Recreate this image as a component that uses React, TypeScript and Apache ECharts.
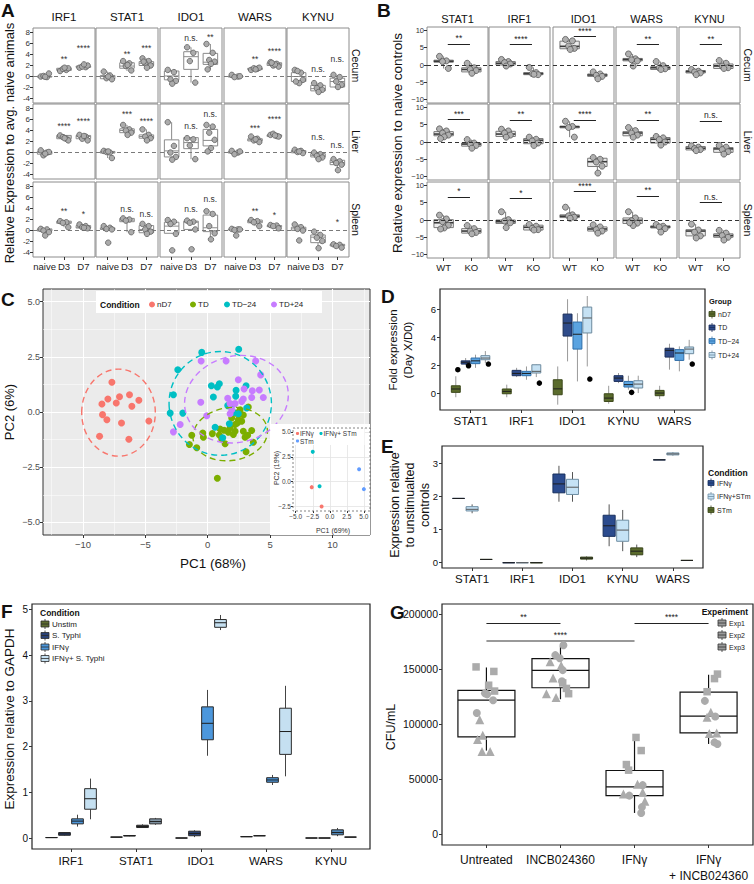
import React, { useEffect, useRef } from 'react';
import * as echarts from 'echarts';

const FONT = '"Liberation Sans", Arial, Helvetica, sans-serif';
const mfmt = (d?: number) => (v: number) => (d === undefined ? String(v) : v.toFixed(d)).replace('-', '\u2212');

// ---------------- Panel A ----------------
const A_GENES = ['IRF1', 'STAT1', 'IDO1', 'WARS', 'KYNU'];
const A_TISSUES = ['Cecum', 'Liver', 'Spleen'];
const A_GROUPS = ['naive', 'D3', 'D7'];
const A_Y_TICKS = [-4, -2, 0, 2, 4, 6, 8];
// box: [min, q1, median, q3, max] per gene, per group
const A_CECUM_BOX = [
  [[-0.15, -0.1, 0, 0.05, 0.5], [1.0, 1.1, 1.3, 1.5, 1.6], [1.6, 1.65, 1.8, 1.9, 2.2]],
  [[-0.6, -0.4, 0, 0.2, 0.9], [1.0, 1.5, 1.9, 2.5, 2.8], [1.6, 2.0, 2.4, 2.7, 3.3]],
  [[-1.3, -0.6, 0.1, 1.0, 1.2], [-1.1, 1.3, 3.6, 4.5, 5.3], [1.3, 2.2, 2.6, 4.2, 5.9]],
  [[-0.2, -0.1, 0, 0.1, 0.3], [1.2, 1.25, 1.4, 1.5, 1.6], [1.8, 2.0, 2.3, 2.5, 2.6]],
  [[-1.2, -0.9, 0.0, 0.7, 1.2], [-2.8, -2.6, -2.2, -1.6, -1.2], [-1.9, -1.9, -0.9, -0.3, 0.3]],
];
const A_CECUM_PTS = [
  [[0, -0.1, 0.1, 0.55, -0.05], [1.0, 1.2, 1.4, 1.5, 1.6], [1.6, 1.7, 1.8, 2.0, 2.2]],
  [[0.9, 0.2, -0.3, -0.5, 0], [2.8, 2.4, 1.9, 1.1, 2.1], [3.3, 2.8, 2.4, 2.0, 1.6, 2.7]],
  [[1.2, 0.8, -0.5, -0.8, -1.3], [5.3, 4.3, 2.8, -1.1], [5.9, 4.3, 3.0, 2.7, 2.3, 1.3]],
  [[0.3, 0, -0.1, 0.05], [1.2, 1.4, 1.5, 1.6, 1.3], [2.6, 2.3, 2.0, 1.8, 2.2, 2.5]],
  [[1.2, 0.7, 1.0, -0.6, -1.2, -0.9], [-1.2, -1.6, -2.1, -2.4, -2.8], [0.3, -0.1, -0.9, -1.5, -1.9]],
];
const A_CECUM_SIG = [
  [['**', 3.5], ['****', 5.6]], [['**', 4.5], ['***', 5.5]], [['n.s.', 6.9], ['**', 7.6]],
  [['**', 3.5], ['****', 5.0]], [['n.s.', 1.3], ['n.s.', 3.1]],
];
const A_LIVER_BOX = [
  [[-0.5, -0.3, 0, 0.2, 0.4], [2.2, 2.5, 2.8, 3.1, 3.3], [2.2, 2.5, 2.9, 3.1, 3.2]],
  [[-1.0, -0.1, 0.1, 0.2, 0.3], [3.2, 3.6, 4.0, 4.3, 5.0], [2.2, 2.6, 2.9, 3.2, 4.2]],
  [[-1.3, -0.8, 0.3, 2.3, 5.5], [-1.2, 0.7, 1.8, 2.7, 2.7], [0.2, 1.2, 2.2, 4.2, 5.0]],
  [[-0.3, -0.1, 0.05, 0.2, 0.3], [1.9, 2.1, 2.3, 2.5, 2.9], [2.8, 2.9, 3.1, 3.2, 3.4]],
  [[-0.1, -0.05, 0.2, 0.35, 0.5], [-1.2, -0.8, -0.5, -0.2, 0.0], [-3.2, -2.2, -1.8, -1.4, -1.2]],
];
const A_LIVER_PTS = [
  [[0.4, 0, -0.5, 0.1, -0.2], [3.1, 2.5, 2.8, 2.2, 2.6], [3.2, 2.9, 2.5, 2.2, 3.0]],
  [[0.3, 0, 0.1, -1.0, 0.2], [5.0, 4.2, 4.0, 3.6, 3.2], [4.2, 3.2, 2.9, 2.6, 2.2]],
  [[5.5, 1.2, 0.0, -0.8, -1.3], [2.6, 2.4, 1.3, -1.2], [5.0, 4.7, 3.6, 2.3, 0.8, 0.2]],
  [[0.3, 0, -0.3, 0.2], [2.9, 2.5, 2.2, 1.9, 2.4], [3.2, 3.0, 3.4, 2.9, 3.1]],
  [[0.5, 0.3, 0.1, -0.1, 0.2], [0.0, -0.3, -0.6, -0.9, -1.2], [-1.2, -1.6, -1.9, -2.2, -3.2]],
];
const A_LIVER_SIG = [
  [['****', 5.1], ['****', 6.1]], [['***', 7.3], ['****', 6.0]], [['n.s.', 4.9], ['n.s.', 6.9]],
  [['***', 4.9], ['****', 6.5]], [['n.s.', 2.8], ['n.s.', 1.4]],
];
const A_SPLEEN_BOX = [
  [[-0.9, -0.1, 0.1, 0.3, 0.4], [0.6, 1.3, 1.5, 1.7, 1.8], [0.4, 0.45, 0.6, 0.9, 1.1]],
  [[-0.2, 0.2, 0.3, 0.5, 0.8], [-0.3, 1.6, 1.9, 2.2, 2.3], [-0.6, -0.4, 0.2, 0.9, 1.2]],
  [[-0.6, -0.5, 0.8, 1.5, 1.9], [0.2, 0.2, 1.5, 1.7, 1.8], [-1.6, -0.2, 0.5, 2.8, 3.5]],
  [[0.0, 0.1, 0.15, 0.25, 0.3], [0.8, 1.4, 1.6, 1.9, 2.0], [0.4, 0.7, 0.8, 0.9, 1.0]],
  [[-0.2, 0.0, 0.3, 0.6, 1.1], [-3.2, -2.2, -1.2, -0.8, -0.2], [-3.1, -2.8, -2.6, -2.5, -2.5]],
];
const A_SPLEEN_PTS = [
  [[0.3, 0.2, 0, -0.3, -0.9], [1.7, 1.5, 1.4, 0.6], [1.1, 0.8, 0.6, 0.4, 0.5]],
  [[0.8, 0.5, 0.3, 0.2, -2.2], [2.2, 2.0, 1.8, -0.3], [1.2, 0.8, 0.2, -0.2, -0.6]],
  [[1.9, 1.6, 1.2, -0.6, -3.6], [1.8, 1.6, 1.4, 0.2, -3.4], [3.5, 3.0, 0.8, -0.5, -1.6]],
  [[0.3, 0.2, 0.1, 0.2, -0.9], [1.9, 1.7, 1.5, 0.8], [1.0, 0.9, 0.8, 0.4]],
  [[1.1, 0.6, 0.3, 0.0, -1.8], [-0.2, -0.8, -1.3, -1.9, -3.2], [-2.5, -2.6, -2.8, -3.1]],
];
const A_SPLEEN_SIG = [
  [['**', 3.9], ['*', 3.4]], [['n.s.', 3.9], ['n.s.', 3.0]], [['n.s.', 3.9], ['n.s.', 5.8]],
  [['**', 3.9], ['*', 3.1]], [['', 0], ['*', 2.0]],
];
const A_JIT = [-0.2, 0.12, -0.06, 0.22, 0.03, -0.14, 0.17];

// ---------------- Panel B ----------------
const B_GENES = ['STAT1', 'IRF1', 'IDO1', 'WARS', 'KYNU'];
const B_TISSUES = ['Cecum', 'Liver', 'Spleen'];
const B_GROUPS = ['WT', 'KO'];
const B_Y_TICKS = [-10, -5, 0, 5, 10];
const B_CECUM_BOX = [
  [[-1.0, 0.8, 1.1, 1.4, 2.5], [-2.4, -2.0, -1.3, -0.8, 0.5]],
  [[-0.3, 0.0, 0.5, 1.0, 1.6], [-2.8, -2.8, -2.5, -2.2, -0.7]],
  [[4.5, 4.7, 5.4, 6.9, 7.4], [-4.0, -3.3, -2.9, -2.6, -2.0]],
  [[-0.3, 1.2, 1.6, 1.9, 3.2], [-1.3, -1.3, -0.8, -0.5, 1.0]],
  [[-2.8, -2.3, -1.9, -1.6, -1.3], [-1.0, -1.0, -0.3, 0.3, 1.3]],
];
const B_CECUM_PTS = [
  [[2.5, 1.2, 1.0, -1.0], [0.5, -0.8, -1.3, -1.6, -2.4]],
  [[1.6, 1.0, 0.7, 0.3, -0.3], [-0.7, -2.2, -2.5, -2.8, -2.7]],
  [[7.4, 7.0, 5.5, 4.8, 4.5], [-2.0, -2.6, -3.0, -3.3, -4.0]],
  [[3.2, 1.8, 1.5, 1.2, -0.3], [1.0, -0.2, -0.8, -1.1, -1.3]],
  [[-1.3, -1.8, -2.0, -2.3, -2.8], [1.3, 0.5, -0.3, -0.8, -1.0]],
];
const B_CECUM_SIG = [['**', 6.1], ['****', 5.9], ['****', 8.3], ['**', 5.9], ['**', 5.9]];
const B_LIVER_BOX = [
  [[1.0, 1.8, 2.3, 3.0, 3.8], [-1.8, -1.2, -0.6, -0.3, 0.7]],
  [[1.4, 1.6, 2.3, 3.1, 3.7], [-1.0, -0.5, 0.5, 1.0, 1.4]],
  [[1.4, 4.1, 4.4, 4.6, 6.0], [-9.0, -7.1, -5.7, -4.7, -4.5]],
  [[1.4, 1.8, 2.6, 3.0, 4.2], [-0.9, -0.3, 0.8, 1.3, 1.6]],
  [[-2.5, -2.3, -1.8, -1.3, -1.1], [-3.5, -3.0, -2.0, -1.6, -1.0]],
];
const B_LIVER_PTS = [
  [[3.8, 3.2, 2.6, 2.0, 1.5, 1.0], [0.7, -0.3, -0.6, -1.0, -1.8]],
  [[3.7, 3.2, 2.6, 2.0, 1.4], [1.4, 0.8, 0.3, -0.3, -1.0]],
  [[6.0, 4.5, 4.2, 1.4], [-4.5, -5.0, -5.8, -7.0, -9.0]],
  [[4.2, 3.3, 2.6, 2.0, 1.4], [1.6, 1.2, 0.7, 0.0, -0.9]],
  [[-1.1, -1.5, -1.9, -2.2, -2.5], [-1.0, -1.5, -2.2, -2.8, -3.5]],
];
const B_LIVER_SIG = [['***', 6.6], ['**', 6.4], ['****', 6.4], ['**', 6.4], ['n.s.', 6.1]];
const B_SPLEEN_BOX = [
  [[-2.6, -2.2, -0.8, 0.1, 1.4], [-4.0, -3.8, -3.2, -2.5, -1.6]],
  [[-2.2, -1.0, -0.5, 0.0, 2.4], [-2.9, -2.9, -2.1, -1.5, -1.3]],
  [[0.5, 0.7, 1.1, 1.5, 3.7], [-3.8, -3.2, -2.6, -2.0, -1.4]],
  [[-1.6, -1.0, -0.1, 0.6, 2.4], [-3.5, -2.3, -2.0, -1.7, -1.3]],
  [[-5.2, -4.6, -3.2, -2.8, -1.2], [-5.8, -5.0, -4.5, -4.0, -3.0]],
];
const B_SPLEEN_PTS = [
  [[1.4, 0.3, -0.5, -1.5, -2.3, -2.6], [-1.6, -2.5, -3.2, -3.6, -4.0]],
  [[2.4, 0.1, -0.3, -0.8, -2.2], [-1.3, -1.8, -2.4, -2.8, -2.9]],
  [[3.7, 1.5, 1.2, 0.8, 0.5], [-1.4, -2.0, -2.8, -3.2, -3.8]],
  [[2.4, 0.6, -0.2, -0.9, -1.6, -0.8], [-1.3, -1.8, -2.0, -2.5, -3.5]],
  [[-1.2, -2.9, -3.5, -4.6, -5.2], [-3.0, -3.8, -4.5, -5.0, -5.8]],
];
const B_SPLEEN_SIG = [['*', 6.7], ['*', 6.2], ['****', 8.3], ['**', 7.0], ['n.s.', 5.2]];
const B_JIT = [-0.15, 0.1, -0.04, 0.17, 0.02, -0.11];

// ---------------- Panel C ----------------
const C_CONDITIONS = ['nD7', 'TD', 'TD\u221224', 'TD+24'];
const C_ND7 = [[-7.68, 1.35], [-8.0, 0.59], [-8.48, 0.36], [-7.07, 0.69], [-7.33, 0.41], [-6.27, 0.78], [-5.52, 0.53], [-6.08, 0.26], [-8.43, -0.12], [-8.08, -0.35], [-6.91, -0.5], [-4.72, -0.41], [-8.67, -1.1], [-6.32, -1.23]];
const C_TD = [[0.77, -3.0], [-1.28, -1.05], [-1.47, -1.47], [-0.88, -1.62], [-0.4, -0.95], [-0.35, -1.14], [0.37, -0.98], [0.99, -0.77], [0.93, -1.04], [1.31, -0.83], [1.65, -0.92], [1.79, -0.71], [1.12, -1.22], [1.39, -1.44], [2.05, -1.02], [2.19, -0.87], [2.45, -0.35], [2.59, -0.09], [2.85, -0.14], [2.72, -0.42], [2.37, -0.5], [2.85, -0.87], [2.99, -1.14], [3.2, -1.05], [3.25, 0.23], [3.52, -0.84], [3.07, -1.8], [3.65, -1.37], [2.19, -0.57], [1.92, -0.27], [2.59, 0.1], [2.27, -0.05]];
const C_TDM24 = [[-0.48, 2.7], [2.48, 2.84], [-2.4, 1.91], [-2.75, 0.78], [-3.01, -0.05], [-2.0, -0.05], [0.29, 1.19], [0.45, 0.68], [0.77, 1.13], [0.93, 1.28], [2.27, 0.98], [2.24, 0.71], [3.07, 1.19], [1.6, 0.29], [1.97, 0.33], [2.05, -0.02], [3.12, 0.18], [1.73, -0.53], [0.59, -0.69], [1.2, -1.17], [2.45, -0.08]];
const C_TDP24 = [[-0.53, 2.31], [1.47, 2.31], [3.84, 2.31], [4.24, 1.68], [2.45, 1.46], [2.91, 1.04], [3.57, 0.96], [4.13, 1.0], [4.45, 0.66], [3.52, 0.66], [2.85, 0.59], [1.6, 0.62], [2.19, 0.38], [2.72, 0.48], [-0.56, 0.44], [-0.08, -0.17], [1.79, -0.08], [1.92, 0.1], [-2.21, -0.57], [-2.75, -0.9], [1.79, 0.38]];
// ellipse: [cx, cy, rx, ry, rotation deg]
const C_ELL_ND7 = [-7.15, -0.03, 2.95, 1.97, 0];
const C_ELL_TD = [1.8, -1.0, 3.0, 1.2, 8];
const C_ELL_TDM24 = [1.0, 0.39, 4.1, 2.35, 5];
const C_ELL_TDP24 = [2.3, 0.58, 4.2, 1.95, 15];
const C_X_TICKS = [-10, -5, 0, 5, 10];
const C_X_MINOR = [-12.5, -7.5, -2.5, 2.5, 7.5, 12.5];
const C_Y_TICKS = [-5, -2.5, 0, 2.5, 5];
const C_Y_MINOR = [-3.75, -1.25, 1.25, 3.75];
const C_IN_CONDITIONS = ['IFN\u03b3', 'IFN\u03b3+ STm', 'STm'];
const C_IN_IFNG = [[-2.65, -0.55], [-1.2, -2.5]];
const C_IN_IFNG_STM = [[-2.5, 3.0], [-1.5, -0.45]];
const C_IN_STM = [[4.3, 1.25], [5.0, -0.75]];
const C_IN_X_TICKS = [-5, -2.5, 0, 2.5, 5];
const C_IN_Y_TICKS = [-2.5, 0, 2.5, 5];

// ---------------- Panel D ----------------
const D_CATS = ['STAT1', 'IRF1', 'IDO1', 'KYNU', 'WARS'];
const D_GROUPS = ['nD7', 'TD', 'TD\u221224', 'TD+24'];
const D_ND7 = [[-0.3, 0.05, 0.29, 0.52, 1.2], [-0.3, -0.05, 0.12, 0.29, 0.6], [-0.83, -0.12, 0.3, 0.95, 1.9], [-0.76, -0.6, -0.36, -0.05, 0.52], [-0.43, -0.19, 0.0, 0.19, 0.52]];
const D_TD = [[2.0, 2.07, 2.2, 2.3, 2.5], [1.14, 1.24, 1.4, 1.62, 1.8], [2.26, 4.07, 5.0, 5.64, 6.7], [0.71, 0.83, 1.07, 1.24, 1.43], [1.67, 2.57, 3.05, 3.2, 3.52]];
const D_TDM24 = [[1.8, 2.1, 2.3, 2.5, 2.74], [0.95, 1.24, 1.4, 1.55, 1.9], [0.83, 3.14, 4.2, 5.07, 5.7], [0.24, 0.43, 0.6, 0.83, 1.24], [1.55, 2.33, 2.86, 3.1, 3.33]];
const D_TDP24 = [[2.14, 2.38, 2.5, 2.67, 3.0], [1.14, 1.43, 1.55, 2.02, 2.05], [1.9, 4.29, 5.36, 6.14, 6.93], [0.0, 0.36, 0.64, 0.88, 1.24], [2.38, 2.81, 3.14, 3.29, 3.8]];
// [category index, dodge offset, value]
const D_DOTS = [[0, -0.25, 1.67], [0, -0.04, 1.95], [0, 0.35, 2.07], [1, 0.35, 0.71], [2, 0.34, 1.0], [3, 0.16, 0.05], [4, 0.35, 2.07]];
const D_Y_TICKS = [0, 2, 4, 6];

// ---------------- Panel E ----------------
const E_CATS = ['STAT1', 'IRF1', 'IDO1', 'KYNU', 'WARS'];
const E_GROUPS = ['IFN\u03b3', 'IFN\u03b3+STm', 'STm'];
const E_IFNG = [[1.93, 1.93, 1.93, 1.93, 1.93], [-0.02, -0.02, -0.02, -0.02, -0.02], [1.83, 2.1, 2.37, 2.67, 2.92], [0.48, 0.78, 1.1, 1.42, 1.75], [3.1, 3.1, 3.1, 3.1, 3.1]];
const E_IFNG_STM = [[1.48, 1.55, 1.6, 1.68, 1.75], [-0.02, -0.02, -0.02, -0.02, -0.02], [1.83, 2.05, 2.27, 2.51, 2.73], [0.33, 0.63, 0.97, 1.27, 1.58], [3.23, 3.25, 3.28, 3.31, 3.33]];
const E_STM = [[0.08, 0.08, 0.08, 0.08, 0.08], [-0.02, -0.02, -0.02, -0.02, -0.02], [0.05, 0.09, 0.12, 0.15, 0.17], [0.15, 0.22, 0.33, 0.43, 0.53], [0.05, 0.05, 0.05, 0.05, 0.05]];
const E_Y_TICKS = [0, 1, 2, 3];

// ---------------- Panel F ----------------
const F_CATS = ['IRF1', 'STAT1', 'IDO1', 'WARS', 'KYNU'];
const F_GROUPS = ['Unstim', 'S. Typhi', 'IFN\u03b3', 'IFN\u03b3+ S. Typhi'];
const F_UNSTIM = [[0.01, 0.01, 0.01, 0.01, 0.01], [0.02, 0.02, 0.02, 0.02, 0.02], [0, 0, 0, 0, 0], [0.03, 0.03, 0.03, 0.03, 0.03], [0, 0, 0, 0, 0]];
const F_STYPHI = [[0.05, 0.06, 0.09, 0.12, 0.13], [0.04, 0.045, 0.05, 0.055, 0.06], [0.02, 0.05, 0.1, 0.15, 0.17], [0.05, 0.05, 0.05, 0.05, 0.05], [0, 0, 0, 0, 0]];
const F_IFNG = [[0.25, 0.31, 0.37, 0.42, 0.51], [0.22, 0.23, 0.25, 0.28, 0.3], [1.8, 2.15, 2.51, 2.87, 3.24], [1.16, 1.22, 1.27, 1.32, 1.38], [0.04, 0.07, 0.12, 0.18, 0.22]];
const F_IFNG_STYPHI = [[0.41, 0.63, 0.86, 1.08, 1.3], [0.29, 0.31, 0.36, 0.42, 0.44], [4.55, 4.61, 4.71, 4.78, 4.88], [1.35, 1.83, 2.33, 2.84, 3.33], [0.02, 0.02, 0.02, 0.02, 0.02]];
const F_Y_TICKS = [0, 1, 2, 3, 4, 5];

// ---------------- Panel G ----------------
const G_CATS = ['Untreated', 'INCB024360', 'IFN\u03b3', 'IFN\u03b3\n+ INCB024360'];
const G_EXPERIMENTS = ['Exp1', 'Exp2', 'Exp3'];
const G_BOX = [[75900, 88400, 121600, 130500, 151300], [122500, 132900, 148600, 159300, 170800], [19300, 35000, 43000, 57800, 87500], [81900, 91900, 107100, 129000, 144700]];
// [category, jitter, CFU/mL]
const G_SQUARES = [[0, -0.14, 151800], [0, 0.1, 147700], [0, 0.03, 135200], [0, 0.11, 129900], [1, 0.03, 137300], [1, 0.08, 132300], [1, 0.11, 127500], [2, 0.02, 87800], [2, 0.09, 75900], [2, -0.11, 63200], [2, -0.08, 58100], [3, 0.12, 145300], [3, 0.08, 141200], [3, -0.02, 129300]];
const G_CIRCLES = [[0, -0.02, 127800], [0, 0.01, 126900], [0, 0.09, 121600], [0, -0.13, 110000], [1, 0.04, 171400], [1, -0.07, 162500], [1, -0.01, 159600], [1, 0.03, 148900], [1, 0.02, 138800], [2, 0.11, 44500], [2, -0.07, 35000], [2, 0.1, 24600], [2, 0.09, 19300], [3, -0.05, 121000], [3, 0.09, 106800], [3, 0.08, 83300], [3, 0.12, 81900]];
const G_TRIANGLES = [[0, -0.09, 103800], [0, -0.05, 89900], [0, -0.12, 86000], [0, -0.06, 75000], [0, 0.05, 75000], [1, -0.14, 156600], [1, 0.01, 153000], [1, -0.1, 141800], [1, -0.19, 127500], [1, -0.06, 124000], [2, 0.04, 45400], [2, -0.15, 36500], [2, 0.11, 38000], [2, 0.14, 30000], [3, 0.03, 110600], [3, -0.02, 106200], [3, 0.11, 91900], [3, 0.01, 91300]];
// [label, from category, to category, y]
const G_SIG = [['**', 0, 1, 191800], ['****', 0, 2, 176000], ['****', 2, 3, 191800]];
const G_Y_TICKS = [0, 50000, 100000, 150000, 200000];

// ---------------- helpers ----------------
function axis(o: any) {
  const show = !!o.ticks;
  const a: any = {
    type: 'value', gridIndex: o.gi, min: o.min, max: o.max,
    axisLine: { show: false, onZero: false }, splitLine: { show: false },
    axisTick: { show, length: o.tickLen ?? 3, lineStyle: { color: o.tickColor ?? '#333', width: 1 } },
    axisLabel: { show, fontSize: o.size ?? 9, color: o.color ?? '#222', margin: o.margin ?? 3, fontFamily: FONT },
  };
  if (o.ticks) { a.axisTick.customValues = o.ticks; a.axisLabel.customValues = o.ticks; }
  if (o.fmt) a.axisLabel.formatter = o.fmt;
  if (o.lineHeight) a.axisLabel.lineHeight = o.lineHeight;
  if (o.z !== undefined) a.z = o.z;
  return a;
}

function boxSeries(gi: number, rows: number[][], o: any) {
  const pick = (v: any, i: number) => (Array.isArray(v) ? v[i] : v);
  const s: any = {
    type: 'custom', xAxisIndex: gi, yAxisIndex: gi, z: o.z ?? 3, silent: true,
    encode: { x: 0, y: [1, 2, 3, 4, 5] },
    data: rows,
    renderItem: (params: any, api: any) => {
      const i = params.dataIndex;
      const x = api.value(0);
      const w = api.size([o.width, 0])[0];
      const p = [1, 2, 3, 4, 5].map((k) => api.coord([x, api.value(k)]));
      const cx = p[0][0];
      const lw = o.lineWidth ?? 1;
      return {
        type: 'group',
        children: [
          { type: 'line', shape: { x1: cx, y1: p[4][1], x2: cx, y2: p[3][1] }, style: { stroke: o.whisker, lineWidth: lw } },
          { type: 'line', shape: { x1: cx, y1: p[1][1], x2: cx, y2: p[0][1] }, style: { stroke: o.whisker, lineWidth: lw } },
          { type: 'rect', shape: { x: cx - w / 2, y: p[3][1], width: w, height: Math.max(p[1][1] - p[3][1], 0) }, style: { fill: pick(o.fill, i), stroke: pick(o.stroke, i), lineWidth: lw } },
          { type: 'line', shape: { x1: cx - w / 2, y1: p[2][1], x2: cx + w / 2, y2: p[2][1] }, style: { stroke: pick(o.median, i), lineWidth: o.medianWidth ?? lw } },
        ],
      };
    },
  };
  if (o.markLine) s.markLine = o.markLine;
  return s;
}

function pointSeries(gi: number, data: number[][], o: any) {
  const s: any = {
    type: 'scatter', xAxisIndex: gi, yAxisIndex: gi, data, silent: true,
    symbol: o.symbol ?? 'circle', symbolSize: o.size,
    itemStyle: { color: o.color, borderColor: o.border ?? o.color, borderWidth: o.borderWidth ?? 0, opacity: 1 },
    z: o.z ?? 4,
  };
  if (o.markLine) s.markLine = o.markLine;
  return s;
}

function textSeries(gi: number, items: any[], o: any) {
  return {
    type: 'custom', xAxisIndex: gi, yAxisIndex: gi, silent: true, z: 6,
    encode: { x: 0, y: 1 },
    data: items.map((it) => [it.x, it.y]),
    renderItem: (params: any, api: any) => {
      const p = api.coord([api.value(0), api.value(1)]);
      const t = items[params.dataIndex].text;
      return {
        type: 'text', x: p[0], y: p[1] + (t.charAt(0) === '*' ? 2 : 0),
        style: { text: t, fontSize: o.size, fontFamily: FONT, fill: o.color, align: 'center', verticalAlign: 'middle', textAlign: 'center', textVerticalAlign: 'middle' },
      };
    },
  };
}

function txt(text: string, x: number, y: number, o: any = {}) {
  return {
    type: 'text', x, y, rotation: o.rot ?? 0, z: o.z ?? 30,
    style: {
      text, fontSize: o.size ?? 10, fontFamily: FONT, fontWeight: o.bold ? 'bold' : 'normal', fill: o.color ?? '#111',
      align: o.align ?? 'center', verticalAlign: o.va ?? 'middle', textAlign: o.align ?? 'center', textVerticalAlign: o.va ?? 'middle',
    },
  };
}

function legIcon(x: number, y: number, fill: string, stroke: string, w = 7, h = 6) {
  return {
    type: 'group', x, y, z: 30,
    children: [
      { type: 'line', shape: { x1: w / 2, y1: -h / 2 - 2, x2: w / 2, y2: h / 2 + 2 }, style: { stroke, lineWidth: 0.8 } },
      { type: 'rect', shape: { x: 0, y: -h / 2, width: w, height: h }, style: { fill, stroke, lineWidth: 0.8 } },
      { type: 'line', shape: { x1: 0, y1: 0, x2: w, y2: 0 }, style: { stroke, lineWidth: 0.8 } },
    ],
  };
}

function buildOption() {
  const grids: any[] = [];
  const xAxes: any[] = [];
  const yAxes: any[] = [];
  const series: any[] = [];
  const graphics: any[] = [];

  const zeroLine = (color: string, z: number) => ({
    silent: true, symbol: ['none', 'none'], z, label: { show: false },
    lineStyle: { color, width: 1, type: [4, 3] }, data: [{ yAxis: 0 }],
  });

  // ---------- Panel A ----------
  const A_COL_LEFT = [33, 96, 160, 224, 287];
  const A_ROW_TOP = [28, 104, 182];
  const A_BOXES = [A_CECUM_BOX, A_LIVER_BOX, A_SPLEEN_BOX];
  const A_POINTS = [A_CECUM_PTS, A_LIVER_PTS, A_SPLEEN_PTS];
  const A_SIGS = [A_CECUM_SIG, A_LIVER_SIG, A_SPLEEN_SIG];
  for (let r = 0; r < 3; r++) {
    for (let c = 0; c < 5; c++) {
      const gi = grids.length;
      grids.push({ left: A_COL_LEFT[c], top: A_ROW_TOP[r], width: 62, height: 75, show: true, borderColor: '#8c8c8c', borderWidth: 1, backgroundColor: '#fff' });
      xAxes.push(axis({ gi, min: -0.6, max: 2.6, ticks: r === 2 ? [0, 1, 2] : null, fmt: (v: number) => A_GROUPS[Math.round(v)], size: 9.5, margin: 4, color: '#222' }));
      yAxes.push(axis({ gi, min: -4.8, max: 8.8, ticks: c === 0 ? A_Y_TICKS : null, size: 8, margin: 3, color: '#333' }));
      series.push(boxSeries(gi, A_BOXES[r][c].map((b, g) => [g, ...b]), { width: 0.75, fill: '#fff', stroke: '#8a8a8a', whisker: '#8a8a8a', median: '#8a8a8a', markLine: zeroLine('#7a7a7a', 3.5) }));
      const pts: number[][] = [];
      A_POINTS[r][c].forEach((arr, g) => arr.forEach((v, i) => pts.push([g + A_JIT[i % A_JIT.length], v])));
      series.push(pointSeries(gi, pts, { size: 5.5, color: '#ababab', border: '#5e5e5e', borderWidth: 0.8 }));
      const sigs = (A_SIGS[r][c] as any[]).map((s, k) => ({ x: k + 1, y: s[1], text: s[0] })).filter((s) => s.text);
      series.push(textSeries(gi, sigs, { size: 8.5, color: '#333' }));
    }
  }
  A_GENES.forEach((g, c) => graphics.push(txt(g, A_COL_LEFT[c] + 31, 16.5, { size: 11.5 })));
  A_TISSUES.forEach((t, r) => graphics.push(txt(t, 356, A_ROW_TOP[r] + 37.5, { size: 10.5, rot: -Math.PI / 2 })));
  graphics.push(txt('Relative Expression to avg. naive animals', 9, 143, { size: 13, rot: Math.PI / 2 }));
  graphics.push(txt('A', 1, 10, { size: 19, bold: true, align: 'left' }));

  // ---------- Panel B ----------
  const B_COL_LEFT = [427, 489, 553, 616, 679];
  const B_ROW_TOP = [27, 104, 182];
  const B_BOXES = [B_CECUM_BOX, B_LIVER_BOX, B_SPLEEN_BOX];
  const B_POINTS = [B_CECUM_PTS, B_LIVER_PTS, B_SPLEEN_PTS];
  const B_SIGS = [B_CECUM_SIG, B_LIVER_SIG, B_SPLEEN_SIG];
  for (let r = 0; r < 3; r++) {
    for (let c = 0; c < 5; c++) {
      const gi = grids.length;
      grids.push({ left: B_COL_LEFT[c], top: B_ROW_TOP[r], width: 61, height: 76, show: true, borderColor: '#8c8c8c', borderWidth: 1, backgroundColor: '#fff' });
      xAxes.push(axis({ gi, min: -0.6, max: 1.6, ticks: r === 2 ? [0, 1] : null, fmt: (v: number) => B_GROUPS[Math.round(v)], size: 9.5, margin: 4, color: '#222' }));
      yAxes.push(axis({ gi, min: -11, max: 11, ticks: c === 0 ? B_Y_TICKS : null, fmt: mfmt(), size: 7.5, margin: 3, color: '#333' }));
      series.push(boxSeries(gi, B_BOXES[r][c].map((b, g) => [g, ...b]), { width: 0.7, fill: '#ececec', stroke: '#7a7a7a', whisker: '#7a7a7a', median: '#3a3a3a', medianWidth: 1.6 }));
      const pts: number[][] = [];
      B_POINTS[r][c].forEach((arr, g) => arr.forEach((v, i) => pts.push([g + B_JIT[i % B_JIT.length], v])));
      const sig = B_SIGS[r][c] as any[];
      series.push(pointSeries(gi, pts, {
        size: 6, color: '#b0b0b0', border: '#555', borderWidth: 0.8,
        markLine: {
          silent: true, symbol: ['none', 'none'], z: 5,
          label: { show: false },
          data: [
            { yAxis: 0, lineStyle: { color: '#333', width: 1, type: [4, 3] }, label: { show: false } },
            [
              { coord: [0.15, sig[1]], lineStyle: { color: '#222', width: 1, type: 'solid' }, label: { show: true, formatter: sig[0], position: 'insideMiddleTop', distance: 1, fontSize: 8.5, color: '#222', fontFamily: FONT } },
              { coord: [0.95, sig[1]] },
            ],
          ],
        },
      }));
    }
  }
  B_GENES.forEach((g, c) => graphics.push(txt(g, B_COL_LEFT[c] + 30.5, 18.5, { size: 11 })));
  B_TISSUES.forEach((t, r) => graphics.push(txt(t, 748, B_ROW_TOP[r] + 38, { size: 10.5, rot: -Math.PI / 2 })));
  graphics.push(txt('Relative expression to naive controls', 397, 143, { size: 13.5, rot: Math.PI / 2 }));
  graphics.push(txt('B', 377, 10, { size: 19, bold: true, align: 'left' }));

  // ---------- Panel C ----------
  {
    const gi = grids.length;
    grids.push({ left: 43, top: 289, width: 327, height: 246, show: true, backgroundColor: '#EBEBEB', borderColor: '#333', borderWidth: 1 });
    xAxes.push(axis({ gi, min: -13.2, max: 13, ticks: C_X_TICKS, fmt: mfmt(), size: 9.5, margin: 4, color: '#4d4d4d' }));
    yAxes.push(axis({ gi, min: -5.57, max: 5.57, ticks: C_Y_TICKS, fmt: mfmt(1), size: 9, margin: 3, color: '#4d4d4d' }));
    const gl: any[] = [];
    C_X_TICKS.forEach((v) => gl.push({ xAxis: v, lineStyle: { color: '#fff', width: 1.1, type: 'solid' } }));
    C_X_MINOR.forEach((v) => gl.push({ xAxis: v, lineStyle: { color: '#fff', width: 0.5, type: 'solid' } }));
    C_Y_TICKS.forEach((v) => gl.push({ yAxis: v, lineStyle: { color: '#fff', width: 1.1, type: 'solid' } }));
    C_Y_MINOR.forEach((v) => gl.push({ yAxis: v, lineStyle: { color: '#fff', width: 0.5, type: 'solid' } }));
    series.push(pointSeries(gi, [[0, 0]], { size: 0, color: 'rgba(0,0,0,0)', z: 1, markLine: { silent: true, symbol: ['none', 'none'], z: 1, label: { show: false }, data: gl } }));
    const cols = ['#F8766D', '#7CAE00', '#00BFC4', '#C77CFF'];
    [C_ND7, C_TD, C_TDM24, C_TDP24].forEach((d, k) => series.push(pointSeries(gi, d, { size: 7, color: cols[k], z: 3 })));
    series.push({
      type: 'custom', xAxisIndex: gi, yAxisIndex: gi, silent: true, z: 4,
      encode: { x: 0, y: 1 },
      data: [C_ELL_ND7, C_ELL_TD, C_ELL_TDM24, C_ELL_TDP24],
      renderItem: (params: any, api: any) => {
        const c = api.coord([api.value(0), api.value(1)]);
        const s = api.size([api.value(2), api.value(3)]);
        return {
          type: 'ellipse', x: c[0], y: c[1], rotation: (api.value(4) * Math.PI) / 180,
          shape: { cx: 0, cy: 0, rx: s[0], ry: s[1] },
          style: { fill: 'none', stroke: cols[params.dataIndex], lineWidth: 1.4, lineDash: [6, 4] },
        };
      },
    });
    // legend
    graphics.push({ type: 'rect', z: 15, shape: { x: 96, y: 291, width: 226, height: 22 }, style: { fill: '#fff' } });
    graphics.push(txt('Condition', 100, 304.5, { size: 8.5, bold: true, align: 'left' }));
    const lx = [152, 193, 227, 274];
    C_CONDITIONS.forEach((n, k) => {
      graphics.push({ type: 'circle', z: 30, shape: { cx: lx[k], cy: 304.5, r: 3 }, style: { fill: cols[k] } });
      graphics.push(txt(n, lx[k] + 5, 304.5, { size: 8, align: 'left', color: '#222' }));
    });
    graphics.push(txt('PC2 (6%)', 9, 412, { size: 13, rot: Math.PI / 2 }));
    graphics.push(txt('PC1 (68%)', 213, 563, { size: 13.5 }));
    graphics.push(txt('C', 1, 299, { size: 19, bold: true, align: 'left' }));

    // inset
    graphics.push({ type: 'rect', z: 10, shape: { x: 271, y: 424, width: 99, height: 111 }, style: { fill: '#fff' } });
    const gj = grids.length;
    grids.push({ left: 293, top: 428, width: 77, height: 83, show: false, z: 11 });
    xAxes.push(axis({ gi: gj, min: -5.4, max: 5.9, ticks: C_IN_X_TICKS, fmt: mfmt(1), size: 6.5, margin: 2, tickLen: 2, color: '#444', z: 11 }));
    yAxes.push(axis({ gi: gj, min: -2.95, max: 5.4, ticks: C_IN_Y_TICKS, fmt: mfmt(1), size: 6.5, margin: 2, tickLen: 2, color: '#444', z: 11 }));
    const gl2: any[] = [];
    C_IN_X_TICKS.forEach((v) => gl2.push({ xAxis: v }));
    C_IN_Y_TICKS.forEach((v) => gl2.push({ yAxis: v }));
    series.push(pointSeries(gj, [[0, 0]], { size: 0, color: 'rgba(0,0,0,0)', z: 11, markLine: { silent: true, symbol: ['none', 'none'], z: 11, label: { show: false }, lineStyle: { color: '#e3e3e3', width: 0.8, type: 'solid' }, data: gl2 } }));
    const icol = ['#F8766D', '#00BFC4', '#619CFF'];
    [C_IN_IFNG, C_IN_IFNG_STM, C_IN_STM].forEach((d, k) => series.push(pointSeries(gj, d, { size: 4, color: icol[k], z: 12 })));
    graphics.push({ type: 'rect', z: 13, shape: { x: 293, y: 428, width: 77, height: 83 }, style: { fill: 'none', stroke: '#666', lineWidth: 0.8, lineDash: [2, 2] } });
    graphics.push({ type: 'rect', z: 14, shape: { x: 294.5, y: 429, width: 70, height: 16 }, style: { fill: '#fff' } });
    const ilx = [[297.5, 433.5], [321, 433.5], [297.5, 441]];
    C_IN_CONDITIONS.forEach((n, k) => {
      graphics.push({ type: 'circle', z: 31, shape: { cx: ilx[k][0], cy: ilx[k][1], r: 1.6 }, style: { fill: icol[k] } });
      graphics.push(txt(n, ilx[k][0] + 2.5, ilx[k][1], { size: 6.5, align: 'left', color: '#333', z: 31 }));
    });
    graphics.push(txt('PC2 (19%)', 276, 468, { size: 7, rot: Math.PI / 2, color: '#333', z: 31 }));
    graphics.push(txt('PC1 (69%)', 333, 530, { size: 7, color: '#333', z: 31 }));
  }

  // ---------- Panel D ----------
  {
    const gi = grids.length;
    grids.push({ left: 440, top: 289, width: 265, height: 121, show: true, backgroundColor: '#fff', borderColor: '#222', borderWidth: 1.2 });
    xAxes.push(axis({ gi, min: -0.6, max: 4.6, ticks: [0, 1, 2, 3, 4], fmt: (v: number) => D_CATS[Math.round(v)], size: 11.5, margin: 5, color: '#111' }));
    yAxes.push(axis({ gi, min: -1.21, max: 7.43, ticks: D_Y_TICKS, size: 9.5, margin: 4, color: '#111' }));
    const off = [-0.29, -0.097, 0.097, 0.29];
    const fills = ['#5A6B2C', '#2E4B8A', '#5AA3E0', '#C5E1F3'];
    const strokes = ['#3b4719', '#1c2f5a', '#2f6ea8', '#6d8a9e'];
    [D_ND7, D_TD, D_TDM24, D_TDP24].forEach((d, k) => series.push(boxSeries(gi, d.map((b, i) => [i + off[k], ...b]), { width: 0.175, fill: fills[k], stroke: strokes[k], whisker: '#9a9a9a', median: k === 3 ? '#555' : '#1e1e1e' })));
    series.push(pointSeries(gi, D_DOTS.map((d) => [d[0] + d[1], d[2]]), { size: 5.5, color: '#000', z: 5 }));
    graphics.push(txt('Group', 709, 301, { size: 7.5, bold: true, align: 'left' }));
    const ly = [314, 327.5, 341, 355];
    D_GROUPS.forEach((n, k) => {
      graphics.push(legIcon(709, ly[k], fills[k], strokes[k], 6, 5));
      graphics.push(txt(n, 718, ly[k], { size: 7, align: 'left', color: '#222' }));
    });
    graphics.push(txt('Fold expression', 393, 350, { size: 11.5, rot: Math.PI / 2 }));
    graphics.push(txt('(Day X/D0)', 408, 350, { size: 11.5, rot: Math.PI / 2 }));
    graphics.push(txt('D', 381, 296, { size: 19, bold: true, align: 'left' }));
  }

  // ---------- Panel E ----------
  {
    const gi = grids.length;
    grids.push({ left: 442, top: 446, width: 261, height: 122, show: true, backgroundColor: '#fff', borderColor: '#222', borderWidth: 1.2 });
    xAxes.push(axis({ gi, min: -0.6, max: 4.6, ticks: [0, 1, 2, 3, 4], fmt: (v: number) => E_CATS[Math.round(v)], size: 11.5, margin: 5, color: '#111' }));
    yAxes.push(axis({ gi, min: -0.18, max: 3.52, ticks: E_Y_TICKS, size: 9.5, margin: 4, color: '#111' }));
    const off = [-0.27, 0, 0.28];
    const fills = ['#2B4B8E', '#C5E2F5', '#5A6B2C'];
    const strokes = ['#18305e', '#6f8ea3', '#38441a'];
    [E_IFNG, E_IFNG_STM, E_STM].forEach((d, k) => series.push(boxSeries(gi, d.map((b, i) => [i + off[k], ...b]), { width: 0.24, fill: fills[k], stroke: strokes[k], whisker: '#555', median: k === 1 ? '#555' : '#1e1e1e' })));
    graphics.push(txt('Condition', 708, 473, { size: 8.5, bold: true, align: 'left' }));
    const ly = [483, 496.5, 510];
    E_GROUPS.forEach((n, k) => {
      graphics.push(legIcon(708, ly[k], fills[k], strokes[k], 6, 5));
      graphics.push(txt(n, 717, ly[k], { size: 7, align: 'left', color: '#222' }));
    });
    graphics.push(txt('Expression relative', 395, 505, { size: 12.5, rot: Math.PI / 2 }));
    graphics.push(txt('to unstimualted', 410, 505, { size: 12.5, rot: Math.PI / 2 }));
    graphics.push(txt('controls', 425, 505, { size: 12.5, rot: Math.PI / 2 }));
    graphics.push(txt('E', 381, 446, { size: 19, bold: true, align: 'left' }));
  }

  // ---------- Panel F ----------
  {
    const gi = grids.length;
    grids.push({ left: 32, top: 604, width: 338, height: 245, show: true, backgroundColor: '#fff', borderColor: '#222', borderWidth: 1.2 });
    xAxes.push(axis({ gi, min: -0.6, max: 4.6, ticks: [0, 1, 2, 3, 4], fmt: (v: number) => F_CATS[Math.round(v)], size: 11.5, margin: 6, color: '#111' }));
    yAxes.push(axis({ gi, min: -0.24, max: 5.12, ticks: F_Y_TICKS, size: 10, margin: 4, color: '#111' }));
    const off = [-0.3, -0.1, 0.1, 0.3];
    const fills: any[] = [
      '#5D6C31',
      '#2A4276',
      ['#4C97DC', '#303030', '#4C97DC', '#4C97DC', '#4F87B8'],
      ['#C5E0F1', '#8397A7', '#C5E0F1', '#C5E0F1', '#C5E0F1'],
    ];
    [F_UNSTIM, F_STYPHI, F_IFNG, F_IFNG_STYPHI].forEach((d, k) => series.push(boxSeries(gi, d.map((b, i) => [i + off[k], ...b]), { width: 0.18, fill: fills[k], stroke: '#2b2b2b', whisker: '#444', median: '#1e1e1e' })));
    graphics.push(txt('Condition', 40, 613, { size: 8.5, bold: true, align: 'left' }));
    const ly = [624, 635.5, 647, 658.5];
    const lf = ['#5D6C31', '#2A4276', '#4C97DC', '#C5E0F1'];
    F_GROUPS.forEach((n, k) => {
      graphics.push(legIcon(41, ly[k], lf[k], '#2b2b2b', 8, 6));
      graphics.push(txt(n, 52, ly[k], { size: 8, align: 'left', color: '#222' }));
    });
    graphics.push(txt('Expression relative to GAPDH', 9, 719, { size: 13.5, rot: Math.PI / 2 }));
    graphics.push(txt('F', 1, 611, { size: 19, bold: true, align: 'left' }));
  }

  // ---------- Panel G ----------
  {
    const gi = grids.length;
    grids.push({ left: 442, top: 604, width: 311, height: 246, show: true, backgroundColor: '#fff', borderColor: '#222', borderWidth: 1.2 });
    xAxes.push(axis({ gi, min: -0.6, max: 3.6, ticks: [0, 1, 2, 3], fmt: (v: number) => G_CATS[Math.round(v)], size: 12, margin: 7, color: '#111', lineHeight: 16 }));
    yAxes.push(axis({ gi, min: -9800, max: 208900, ticks: G_Y_TICKS, fmt: (v: number) => String(v), size: 10.5, margin: 4, color: '#111' }));
    series.push(boxSeries(gi, G_BOX.map((b, i) => [i, ...b]), { width: 0.77, fill: '#fff', stroke: '#111', whisker: '#111', median: '#111', lineWidth: 1.2 }));
    const sigData = G_SIG.map((s: any, k) => [
      { coord: [s[1], s[3]], lineStyle: { color: k === 1 ? '#777' : '#222', width: k === 1 ? 1.5 : 1, type: 'solid' }, label: { show: true, formatter: s[0], position: 'insideMiddleTop', distance: 1, fontSize: 8.5, color: '#222', fontFamily: FONT } },
      { coord: [s[2], s[3]] },
    ]);
    series.push(pointSeries(gi, G_SQUARES.map((d) => [d[0] + d[1], d[2]]), { symbol: 'rect', size: 7.5, color: '#ababab', z: 5, markLine: { silent: true, symbol: ['none', 'none'], z: 5, data: sigData } }));
    series.push(pointSeries(gi, G_CIRCLES.map((d) => [d[0] + d[1], d[2]]), { symbol: 'circle', size: 8, color: '#ababab', z: 5 }));
    series.push(pointSeries(gi, G_TRIANGLES.map((d) => [d[0] + d[1], d[2]]), { symbol: 'triangle', size: 9, color: '#ababab', z: 5 }));
    graphics.push(txt('Experiment', 748, 612, { size: 8.5, bold: true, align: 'right' }));
    const ly = [623, 635, 647];
    G_EXPERIMENTS.forEach((n, k) => {
      graphics.push(legIcon(718, ly[k], '#9a9a9a', '#333', 8, 6));
      graphics.push(txt(n, 729, ly[k], { size: 7, align: 'left', color: '#222' }));
    });
    graphics.push(txt('CFU/mL', 391, 727, { size: 12.5, rot: Math.PI / 2 }));
    graphics.push(txt('G', 390, 612, { size: 19, bold: true, align: 'left' }));
  }

  return {
    animation: false,
    backgroundColor: '#fff',
    textStyle: { fontFamily: FONT },
    grid: grids,
    xAxis: xAxes,
    yAxis: yAxes,
    series,
    graphic: { elements: graphics },
  };
}

export default function App() {
  const ref = useRef<HTMLDivElement>(null);
  useEffect(() => {
    if (!ref.current) return;
    const chart = echarts.init(ref.current, undefined, { renderer: 'svg' });
    chart.setOption(buildOption() as any);
    return () => chart.dispose();
  }, []);
  return <div ref={ref} style={{ position: 'absolute', left: 0, top: 0, width: 754, height: 884 }} />;
}
